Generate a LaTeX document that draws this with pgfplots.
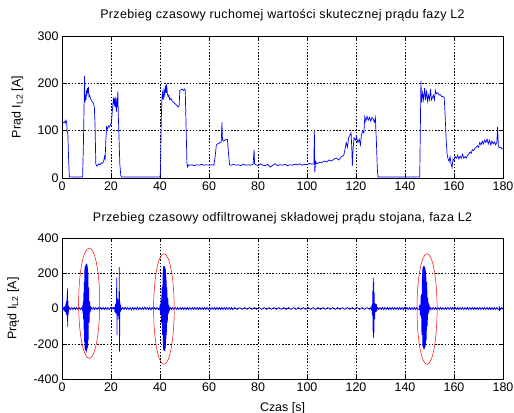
\documentclass[border=0pt]{standalone}
\usepackage{fontspec}
\setmainfont{Liberation Sans}
\newfontfamily\titlefont[LetterSpace=3]{Liberation Sans}
\usepackage{pgfplots}
\pgfplotsset{compat=1.18}

\pgfplotsset{
  matlab/.style={
    scale only axis,
    width=441bp,
    xmin=0, xmax=180,
    xtick={0,20,...,180},
    grid=major,
    grid style={black, dash pattern=on 1.6pt off 1.6pt, line width=0.4pt},
    axis line style={black, line width=0.5pt},
    tick align=inside,
    major tick length=4bp,
    tick style={black, line width=0.4pt},
    /pgf/number format/assume math mode=true,
    tick label style={font=\fontsize{12.5}{14}\selectfont},
    label style={font=\fontsize{12.5}{14}\selectfont},
    title style={font=\titlefont\fontsize{12.5}{14}\selectfont, anchor=center},
    ylabel style={rotate=0, anchor=center},
  },
}

\begin{document}
\begin{tikzpicture}
\useasboundingbox (0,0) rectangle (514bp,413bp);

% top: moving RMS value
\begin{axis}[matlab,
  at={(62bp,235bp)}, anchor=south west,
  height=142bp,
  ymin=0, ymax=300, ytick={0,100,200,300},
  title={Przebieg czasowy ruchomej wartości skutecznej prądu fazy L2},
  title style={at={(axis description cs:0.5,1.102)}},
  ylabel={Prąd I\textsubscript{L2} [A]},
  ylabel style={at={(axis description cs:-0.101,0.5)}},
]
\addplot[blue, line width=0.7pt] coordinates {
(0,118)(0.5,117)(1,119)(1.3,116)(1.6,122)(1.9,118)(2.1,100)(2.4,92)(2.7,40)(3.0,2)(8.4,2)(8.7,60)(9.0,150)(9.2,216)(9.4,160)(9.6,175)(9.8,165)(10.0,185)(10.2,175)(10.4,190)(10.6,180)(10.8,192)(11.0,172)(11.3,175)(11.6,168)(12.0,165)(12.4,160)(12.8,158)(13.2,150)(13.5,110)(13.8,30)(14.2,25)(14.6,27)(15.0,30)(15.5,28)(16.0,32)(16.5,31)(17.0,35)(17.3,45)(17.6,40)(17.9,80)(18.2,108)(18.6,104)(19.0,110)(19.4,108)(19.8,112)(20.2,118)(20.5,140)(20.8,155)(21.0,170)(21.2,160)(21.4,168)(21.6,150)(21.8,165)(22.0,158)(22.2,140)(22.4,170)(22.6,150)(22.8,183)(23.0,130)(23.3,80)(23.6,30)(24.0,5)(24.4,2)
(40.0,2)(40.2,15)(40.5,120)(40.8,170)(41.0,180)(41.3,165)(41.6,185)(41.9,175)(42.2,195)(42.5,180)(42.7,198)(43.0,178)(43.3,172)(43.6,175)(44.0,165)(44.5,168)(45.0,162)(45.5,160)(46.0,158)(46.5,155)(47.0,153)(47.5,150)(47.8,152)(48.1,185)(48.5,186)(49.0,188)(49.5,185)(50.0,188)(50.3,185)(50.6,120)(51.0,30)(51.3,23)(51.6,28)
(52,27)(53,28)(54,26)(55,28)(56,27)(57,29)(58,27)(59,28)(60,27)(61,28)(62,27)(62.5,45)(63,70)(63.5,72)(64,73)(64.5,75)(65,76)(65.3,118)(65.5,80)(66,78)(66.5,80)(67,82)(67.5,82)(68,50)(68.4,28)
(69,27)(70,29)(71,27)(72,28)(73,26)(74,29)(75,27)(76,28)(77,27)(78,29)(78.4,60)(78.6,30)(79,28)(80,26)(81,30)(82,27)(83,26)(84,29)(85,23)(86,27)(87,30)(88,26)(89,28)(90,27)(91,29)(92,26)(93,28)(94,27)(95,29)(96,28)(97,30)(98,27)(99,29)(100,28)(101,31)(102,29)(102.8,30)(103,100)(103.2,12)(103.5,35)
(104,30)(105,33)(106,32)(107,36)(108,34)(109,38)(110,36)(111,40)(112,42)(113,38)(114,45)(115,48)(115.5,60)(116,75)(116.5,65)(117,85)(117.5,90)(118,95)(118.3,60)(118.5,25)(118.8,60)(119.2,85)(119.7,80)(120.2,86)(120.8,75)(121.3,82)(121.8,70)(122.2,90)(122.7,100)(123.2,95)(123.6,130)(124,120)(124.5,130)(125,122)(125.5,128)(126,120)(126.5,128)(127,125)(127.5,118)(127.9,128)(128.3,80)(128.7,20)(129.0,2)
(146,2)(146.2,80)(146.5,205)(146.8,160)(147.2,180)(147.6,165)(148,190)(148.4,165)(148.8,185)(149.2,162)(149.6,175)(150,165)(150.4,188)(150.8,165)(151.2,170)(151.6,175)(152,165)(152.4,185)(152.8,178)(153.2,180)(153.6,178)(154,175)(154.5,176)(155,172)(155.5,172)(156,170)(156.4,130)(156.8,80)(157.2,50)(157.6,40)(158,35)(158.4,45)(158.8,30)(159.2,22)(159.6,40)
(160,38)(160.5,45)(161,42)(161.5,48)(162,40)(162.5,46)(163,42)(163.5,50)(164,42)(164.5,45)(165,42)(165.5,48)(166,50)(166.5,55)(167,52)(167.5,60)(168,58)(168.5,62)(169,65)(169.5,68)(170,65)(170.5,75)(171,70)(171.5,78)(172,72)(172.5,80)(173,75)(173.5,82)(174,72)(174.5,80)(175,70)(175.5,78)(176,72)(176.5,76)(177,70)(177.5,76)(177.8,108)(178.1,68)(178.5,64)(179,65)(179.5,62)(180,62)
};
\end{axis}

% bottom: filtered component
\begin{axis}[matlab,
  at={(62bp,34bp)}, anchor=south west,
  height=141bp,
  ymin=-400, ymax=400, ytick={-400,-200,0,200,400},
  title={Przebieg czasowy odfiltrowanej składowej prądu stojana, faza L2},
  title style={at={(axis description cs:0.5,1.099)}},
  ylabel={Prąd I\textsubscript{L2} [A]},
  ylabel style={at={(axis description cs:-0.111,0.5)}},
  xlabel={Czas [s]},
  xlabel style={at={(axis description cs:0.5,-0.143)}},
]
\addplot[blue, line width=0.7pt] coordinates {
(0,0)(0.1,80)(0.2,-10)(0.4,5)(0.6,-5)(0.8,3)(1.0,-8)(1.2,15)(1.4,-20)(1.6,30)(1.7,-35)(1.8,40)(1.9,-30)(2.0,60)(2.1,-60)(2.2,115)(2.3,-105)(2.4,50)(2.5,-40)(2.6,15)(2.8,-8)(3.0,5)(3.5,-6)(4,6)(4.5,-6)(5,6)(5.5,-6)(6,6)(6.5,-6)(7,6)(7.5,-6)(8,6)
(8.4,-10)(8.5,20)(8.6,-30)(8.7,40)(8.8,-60)(8.9,90)(9.0,-120)(9.1,150)(9.2,-190)(9.25,210)
(9.30,220)(9.35,-230)(9.40,235)(9.45,-225)(9.50,240)(9.55,-235)(9.60,230)(9.65,-240)(9.70,245)(9.75,-230)(9.80,250)(9.85,-245)(9.90,240)(9.95,-250)(10.00,255)(10.05,-240)(10.10,245)(10.15,-235)(10.20,250)(10.25,-230)(10.30,240)(10.35,-225)(10.40,230)(10.45,-220)(10.50,215)(10.55,-210)(10.60,200)
(10.7,-180)(10.9,120)(11.1,-80)(11.3,40)(11.5,-20)(11.8,8)(12.3,-6)(12.8,6)(13.3,-6)(13.8,6)(14.3,-6)(14.8,6)(15.3,-6)(15.8,6)(16.3,-6)(16.8,6)(17.3,-6)(17.8,6)(18.3,-6)(18.8,6)(19.3,-6)(19.8,6)(20.3,-6)(20.8,6)
(21.4,5)(21.6,-20)(21.8,25)(22.0,-30)(22.2,40)(22.35,175)(22.45,-150)(22.6,60)(22.8,-40)(23.0,50)(23.2,-60)(23.4,235)(23.5,-245)(23.6,40)(23.8,-20)(24.0,10)(24.3,-6)
(24.8,6)(25.3,-6)(25.8,8)(26.3,-6)(26.8,6)(27.3,-6)(27.8,6)(28.3,-8)(28.8,6)(29.3,-6)(29.8,6)(30.3,-6)(30.8,8)(31.3,-6)(31.8,6)(32.3,-6)(32.8,6)(33.3,-6)(33.8,8)(34.3,-6)(34.8,6)(35.3,-6)(35.8,6)(36.3,-8)(36.8,6)(37.3,-6)(37.8,6)(38.3,-6)(38.8,6)(39.3,-6)
(39.8,-5)(40.0,20)(40.2,-30)(40.4,50)(40.6,-80)(40.8,120)(41.0,-150)(41.2,200)(41.3,-220)
(41.35,225)(41.40,-230)(41.45,235)(41.50,-235)(41.55,240)(41.60,-240)(41.65,238)(41.70,-238)(41.75,240)(41.80,-235)(41.85,238)(41.90,-240)(41.95,235)(42.00,-235)(42.05,230)(42.10,-230)(42.15,225)(42.20,-225)(42.25,220)(42.30,-215)(42.35,200)(42.40,-190)(42.45,180)(42.50,-170)(42.55,160)
(42.6,-150)(42.8,120)(43.0,-80)(43.2,60)(43.4,-30)(43.6,20)(43.8,-10)(44.2,6)
(44.7,-6)(45.2,6)(45.7,-6)(46.2,6)(46.7,-6)(47.2,6)(47.7,-6)(48.2,6)(48.7,-6)(49.2,6)(49.7,-6)(50.2,6)(50.7,-6)(51.2,6)(51.7,-6)(52.2,6)(52.7,-6)(53.2,6)(53.7,-6)(54.2,6)(54.7,-6)(55.2,6)(55.7,-6)(56.2,6)(56.7,-6)(57.2,6)(57.7,-6)(58.2,6)(58.7,-6)(59.2,6)(59.7,-6)(60.2,6)(60.7,-6)(61.2,6)(61.7,-6)(62.2,6)(62.7,-6)(63.2,6)(63.7,-6)(64.2,6)(64.7,-6)(65.2,6)(65.7,-6)(66.2,6)(66.7,-6)(67.2,6)(67.7,-6)(68.2,6)(68.7,-6)(69.2,6)(69.7,-6)
(70.5,5)(71.5,-5)(72.5,5)(73.5,-5)(74.5,5)(75.5,-5)(76.5,5)(77.5,-5)(78.5,5)(79.5,-5)(80.5,5)(81.5,-5)(82.5,5)(83.5,-5)(84.5,5)(85.5,-5)(86.5,5)(87.5,-5)(88.5,5)(89.5,-5)(90.5,5)(91.5,-5)(92.5,5)(93.5,-5)(94.5,5)(95.5,-5)(96.5,5)(97.5,-5)(98.5,5)(99.5,-5)(100.5,5)(101.5,-5)(102.5,5)(103.5,-5)(104.5,5)(105.5,-5)(106.5,5)(107.5,-5)(108.5,5)(109.5,-5)(110.5,5)
(111.5,-5)(112.5,5)(113.5,-5)(114.5,5)(115.5,-5)(116.5,5)(117.5,-5)(118.5,5)(119.5,-5)(120.5,5)(121.5,-5)(122.5,5)(123.5,-5)(124.5,5)(125.5,-5)(126,5)
(126.3,-5)(126.5,20)(126.7,-40)(126.85,100)(126.95,-130)(127.05,175)(127.15,-165)(127.25,150)(127.35,-140)(127.45,90)(127.6,-60)(127.8,30)(128,-20)(128.3,25)(128.5,-10)(128.8,6)
(129.3,-6)(129.8,6)(130.3,-6)(130.8,6)(131.3,-6)(131.8,6)(132.3,-6)(132.8,6)(133.3,-6)(133.8,6)(134.3,-6)(134.8,6)(135.3,-6)(135.8,6)(136.3,-6)(136.8,6)(137.3,-6)(137.8,6)(138.3,-6)(138.8,6)(139.3,-6)(139.8,6)(140.3,-6)(140.8,6)(141.3,-6)(141.8,6)(142.3,-6)(142.8,6)(143.3,-6)(143.8,6)(144.3,-6)(144.8,6)(145.3,-6)
(145.8,-5)(146,20)(146.3,-40)(146.6,80)(146.9,-150)(147.1,200)(147.2,-210)
(147.25,225)(147.30,-215)(147.35,230)(147.40,-220)(147.45,235)(147.50,-225)(147.55,238)(147.60,-228)(147.65,240)(147.70,-230)(147.75,238)(147.80,-228)(147.85,240)(147.90,-230)(147.95,235)(148.00,-225)(148.05,232)(148.10,-222)(148.15,228)(148.20,-218)(148.25,222)(148.30,-210)(148.35,210)(148.40,-200)(148.45,195)(148.50,-185)(148.55,175)(148.60,-165)(148.65,150)
(148.7,-180)(148.9,150)(149.1,-100)(149.3,60)(149.5,-30)(149.8,20)(150.2,-10)(150.5,6)
(151,-6)(151.5,6)(152,-6)(152.5,6)(153,-6)(153.5,6)(154,-6)(154.5,6)(155,-6)(155.5,6)(156,-6)(156.5,6)(157,-6)(157.5,6)(158,-6)(158.5,6)(159,-6)(159.5,6)(160,-6)(160.5,6)(161,-6)(161.5,6)(162,-6)(162.5,6)(163,-6)(163.5,6)(164,-6)(164.5,6)(165,-6)(165.5,6)(166,-6)(166.5,6)(167,-6)(167.5,6)(168,-6)(168.5,6)(169,-6)(169.5,6)(170,-6)(170.5,6)(171,-6)(171.5,6)(172,-6)(172.5,6)(173,-6)(173.5,6)(174,-6)(174.5,6)(175,-6)(175.5,6)(176,-6)(176.5,6)(177,-6)(177.5,6)(178,-6)
(178.4,-3)(178.5,15)(178.55,-15)(178.65,3)(179,-6)(179.5,6)(180,-5)
};
\draw[red, line width=0.5pt] (axis cs:11.1,30) ellipse [x radius=4.3, y radius=313];
\draw[red, line width=0.5pt] (axis cs:41.6,-3) ellipse [x radius=4.2, y radius=314];
\draw[red, line width=0.5pt] (axis cs:149,-3) ellipse [x radius=4.1, y radius=314];
\end{axis}
\end{tikzpicture}
\end{document}
